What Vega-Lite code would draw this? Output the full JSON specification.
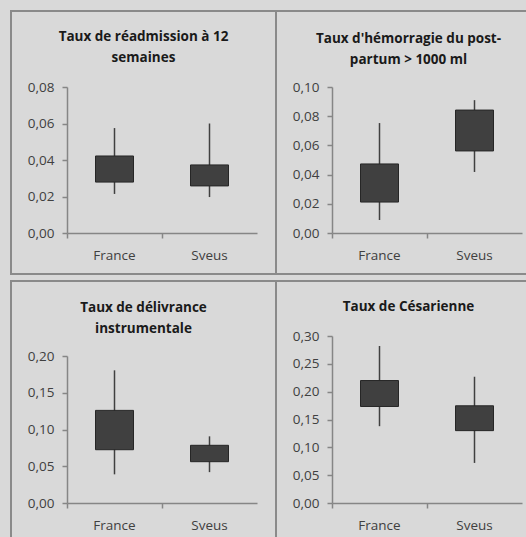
{
  "$schema": "https://vega.github.io/schema/vega-lite/v6.json",
  "background": "#d9d9d9",
  "padding": {"left": 10, "top": 10, "right": 0, "bottom": 0},
  "datasets": {
    "boxes": [
      {"panel": "p1", "pays": "France", "min": 0.0214, "q1": 0.0279, "q3": 0.0422, "max": 0.0575},
      {"panel": "p1", "pays": "Sveus", "min": 0.0197, "q1": 0.0258, "q3": 0.0373, "max": 0.0600},
      {"panel": "p2", "pays": "France", "min": 0.0089, "q1": 0.0212, "q3": 0.0473, "max": 0.0753},
      {"panel": "p2", "pays": "Sveus", "min": 0.0418, "q1": 0.0562, "q3": 0.0842, "max": 0.0910},
      {"panel": "p3", "pays": "France", "min": 0.039, "q1": 0.0725, "q3": 0.126, "max": 0.1805},
      {"panel": "p3", "pays": "Sveus", "min": 0.042, "q1": 0.0562, "q3": 0.0785, "max": 0.0907},
      {"panel": "p4", "pays": "France", "min": 0.138, "q1": 0.1734, "q3": 0.220, "max": 0.282},
      {"panel": "p4", "pays": "Sveus", "min": 0.072, "q1": 0.130, "q3": 0.1746, "max": 0.2268}
    ]
  },
  "data": {"name": "boxes"},
  "spacing": 5,
  "vconcat": [
    {
      "spacing": 0,
      "bounds": "flush",
      "hconcat": [
        {
          "width": 265, "height": 263,
          "title": {"text": ["Taux de réadmission à 12", "semaines"], "offset": -53},
          "transform": [{"filter": "datum.panel === 'p1'"}],
          "encoding": {"x": {"field": "pays", "type": "nominal", "sort": null, "scale": {"range": [56, 246], "paddingInner": 0, "paddingOuter": 0}, "axis": {"title": null, "orient": "bottom", "offset": -41, "bandPosition": 0, "labelAngle": 0}}},
          "layer": [
            {"mark": {"type": "rule", "color": "#404040", "strokeWidth": 1.5},
             "encoding": {"y": {"field": "min", "type": "quantitative", "scale": {"domain": [0, 0.08], "nice": false, "range": [222, 76]}, "axis": {"title": null, "offset": -56, "values": [0, 0.02, 0.04, 0.06, 0.08], "labelExpr": "replace(format(datum.value, '.2f'), '.', ',')"}}, "y2": {"field": "max"}}},
            {"mark": {"type": "bar", "color": "#404040", "stroke": "#262626", "strokeWidth": 1, "size": 38},
             "encoding": {"y": {"field": "q1", "type": "quantitative"}, "y2": {"field": "q3"}}}
          ]
        },
        {
          "width": 265, "height": 263,
          "title": {"text": ["Taux d'hémorragie du post-", "partum > 1000 ml"], "offset": -55},
          "transform": [{"filter": "datum.panel === 'p2'"}],
          "encoding": {"x": {"field": "pays", "type": "nominal", "sort": null, "scale": {"range": [56, 246], "paddingInner": 0, "paddingOuter": 0}, "axis": {"title": null, "orient": "bottom", "offset": -41, "bandPosition": 0, "labelAngle": 0}}},
          "layer": [
            {"mark": {"type": "rule", "color": "#404040", "strokeWidth": 1.5},
             "encoding": {"y": {"field": "min", "type": "quantitative", "scale": {"domain": [0, 0.1], "nice": false, "range": [222, 76]}, "axis": {"title": null, "offset": -56, "values": [0, 0.02, 0.04, 0.06, 0.08, 0.1], "labelExpr": "replace(format(datum.value, '.2f'), '.', ',')"}}, "y2": {"field": "max"}}},
            {"mark": {"type": "bar", "color": "#404040", "stroke": "#262626", "strokeWidth": 1, "size": 38},
             "encoding": {"y": {"field": "q1", "type": "quantitative"}, "y2": {"field": "q3"}}}
          ]
        }
      ]
    },
    {
      "spacing": 0,
      "bounds": "flush",
      "hconcat": [
        {
          "width": 265, "height": 263,
          "title": {"text": ["Taux de délivrance", "instrumentale"], "offset": -54},
          "transform": [{"filter": "datum.panel === 'p3'"}],
          "encoding": {"x": {"field": "pays", "type": "nominal", "sort": null, "scale": {"range": [56, 246], "paddingInner": 0, "paddingOuter": 0}, "axis": {"title": null, "orient": "bottom", "offset": -41, "bandPosition": 0, "labelAngle": 0}}},
          "layer": [
            {"mark": {"type": "rule", "color": "#404040", "strokeWidth": 1.5},
             "encoding": {"y": {"field": "min", "type": "quantitative", "scale": {"domain": [0, 0.2], "nice": false, "range": [222, 75]}, "axis": {"title": null, "offset": -56, "values": [0, 0.05, 0.1, 0.15, 0.2], "labelExpr": "replace(format(datum.value, '.2f'), '.', ',')"}}, "y2": {"field": "max"}}},
            {"mark": {"type": "bar", "color": "#404040", "stroke": "#262626", "strokeWidth": 1, "size": 38},
             "encoding": {"y": {"field": "q1", "type": "quantitative"}, "y2": {"field": "q3"}}}
          ]
        },
        {
          "width": 265, "height": 263,
          "title": {"text": "Taux de Césarienne", "offset": -32},
          "transform": [{"filter": "datum.panel === 'p4'"}],
          "encoding": {"x": {"field": "pays", "type": "nominal", "sort": null, "scale": {"range": [56, 246], "paddingInner": 0, "paddingOuter": 0}, "axis": {"title": null, "orient": "bottom", "offset": -41, "bandPosition": 0, "labelAngle": 0}}},
          "layer": [
            {"mark": {"type": "rule", "color": "#404040", "strokeWidth": 1.5},
             "encoding": {"y": {"field": "min", "type": "quantitative", "scale": {"domain": [0, 0.3], "nice": false, "range": [222, 55]}, "axis": {"title": null, "offset": -56, "values": [0, 0.05, 0.1, 0.15, 0.2, 0.25, 0.3], "labelExpr": "replace(format(datum.value, '.2f'), '.', ',')"}}, "y2": {"field": "max"}}},
            {"mark": {"type": "bar", "color": "#404040", "stroke": "#262626", "strokeWidth": 1, "size": 38},
             "encoding": {"y": {"field": "q1", "type": "quantitative"}, "y2": {"field": "q3"}}}
          ]
        }
      ]
    }
  ],
  "config": {
    "font": "Open Sans",
    "view": {"stroke": "#8a8a8a", "strokeWidth": 2},
    "title": {"font": "Open Sans", "fontSize": 13.5, "fontWeight": "bold", "color": "#1a1a1a", "anchor": "middle", "lineHeight": 21},
    "axis": {"domainColor": "#868686", "domainWidth": 1.5, "tickColor": "#868686", "tickWidth": 1.5, "tickSize": 5, "grid": false, "labelFont": "Open Sans", "labelFontSize": 13.5, "labelColor": "#404040", "labelPadding": 8},
    "axisX": {"labelPadding": 10}
  }
}
